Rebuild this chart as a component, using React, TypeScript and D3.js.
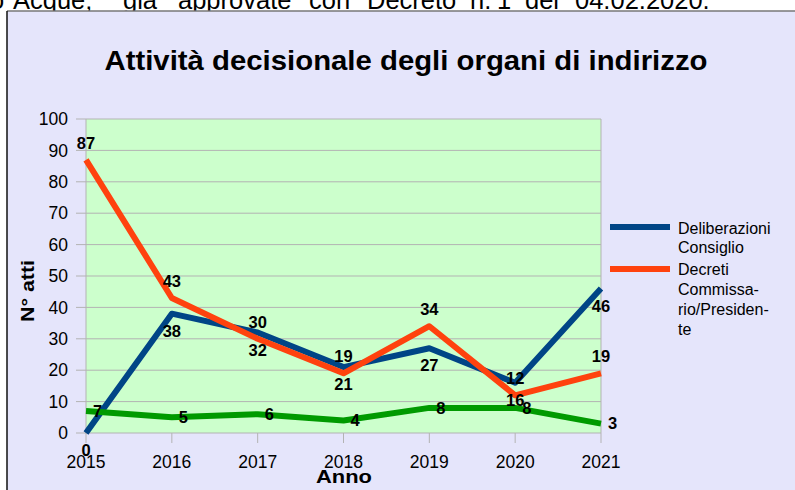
import React from "react";
import * as d3 from "d3";

const years = ["2015", "2016", "2017", "2018", "2019", "2020", "2021"];
const deliberazioni = [0, 38, 32, 21, 27, 16, 46];
const decreti = [87, 43, 30, 19, 34, 12, 19];
const terzaSerie = [7, 5, 6, 4, 8, 8, 3];
const yTicks = [0, 10, 20, 30, 40, 50, 60, 70, 80, 90, 100];
const headerWords = ["o", "Acque;", "già", "approvate", "con", "Decreto", "n.", "1", "del", "04.02.2020."];
const headerWordX = [-10, 13, 123, 178, 309, 367, 470, 497, 525, 575];

const FONT = "'Liberation Sans', Arial, sans-serif";

export default function App() {
  const W = 795, H = 490;
  const x = d3.scalePoint<string>().domain(years).range([86, 601]);
  const y = d3.scaleLinear().domain([0, 100]).range([433, 119]);
  const line = d3
    .line<number>()
    .x((_, i) => x(years[i]) as number)
    .y((d) => y(d));

  const series = [
    { name: "blue", values: deliberazioni, color: "#004586", labelPos: "below" },
    { name: "orange", values: decreti, color: "#ff420e", labelPos: "above" },
    { name: "green", values: terzaSerie, color: "#009a00", labelPos: "right" },
  ];

  return (
    <svg
      width={W}
      height={H}
      style={{ position: "fixed", left: 0, top: 0, background: "#fff" }}
      fontFamily={FONT}
    >
      {headerWords.map((w, i) => (
        <text key={w + i} x={headerWordX[i]} y={9} fontSize={25.5} fill="#000">
          {w}
        </text>
      ))}
      <rect x={7} y={11} width={W} height={H} fill="#e5e5fb" />
      <line x1={7} y1={11} x2={W} y2={11} stroke="#777" strokeWidth={1.5} />
      <line x1={7} y1={11} x2={7} y2={H} stroke="#111" strokeWidth={1.5} />

      <text
        x={406}
        y={70}
        textAnchor="middle"
        fontSize={27}
        fontWeight="bold"
        textLength={603}
        lengthAdjust="spacingAndGlyphs"
      >
        Attività decisionale degli organi di indirizzo
      </text>

      <rect x={86} y={119} width={515} height={314} fill="#ccffcc" />
      {yTicks.map((t) => (
        <g key={t}>
          <line x1={76} x2={601} y1={y(t)} y2={y(t)} stroke="#b3b3b3" strokeWidth={1} />
          <text x={68} y={y(t)} dy="0.35em" textAnchor="end" fontSize={17.5}>
            {t}
          </text>
        </g>
      ))}
      <line x1={86} x2={86} y1={119} y2={433} stroke="#b3b3b3" />
      <line x1={601} x2={601} y1={119} y2={433} stroke="#b3b3b3" />
      {years.map((yr) => (
        <g key={yr}>
          <line x1={x(yr)} x2={x(yr)} y1={433} y2={443} stroke="#b3b3b3" />
          <text x={x(yr)} y={468} textAnchor="middle" fontSize={17.5}>
            {yr}
          </text>
        </g>
      ))}

      {series.map((s) => (
        <path
          key={s.name}
          d={line(s.values) || ""}
          fill="none"
          stroke={s.color}
          strokeWidth={6}
          strokeLinejoin="round"
        />
      ))}

      {series.map((s) =>
        s.values.map((v, i) => {
          const px = x(years[i]) as number;
          const py = y(v);
          if (s.labelPos === "above")
            return (
              <text key={s.name + i} x={px} y={py - 11} textAnchor="middle" fontSize={16.5} fontWeight="bold">
                {v}
              </text>
            );
          if (s.labelPos === "below")
            return (
              <text key={s.name + i} x={px} y={py + 23} textAnchor="middle" fontSize={16.5} fontWeight="bold">
                {v}
              </text>
            );
          return (
            <text key={s.name + i} x={px + 7} y={py} dy="0.35em" fontSize={16.5} fontWeight="bold">
              {v}
            </text>
          );
        })
      )}

      <text
        transform="translate(34,291) rotate(-90)"
        textAnchor="middle"
        fontSize={19}
        fontWeight="bold"
        textLength={62}
        lengthAdjust="spacingAndGlyphs"
      >
        N° atti
      </text>
      <text
        x={344}
        y={483}
        textAnchor="middle"
        fontSize={19}
        fontWeight="bold"
        textLength={56}
        lengthAdjust="spacingAndGlyphs"
      >
        Anno
      </text>

      <line x1={610} x2={670} y1={227} y2={227} stroke="#004586" strokeWidth={6} />
      <text x={678} y={234} fontSize={16}>
        <tspan x={678}>Deliberazioni</tspan>
        <tspan x={678} dy={19}>Consiglio</tspan>
      </text>
      <line x1={610} x2={670} y1={269} y2={269} stroke="#ff420e" strokeWidth={6} />
      <text x={678} y={275} fontSize={16}>
        <tspan x={678}>Decreti</tspan>
        <tspan x={678} dy={20}>Commissa-</tspan>
        <tspan x={678} dy={20}>rio/Presiden-</tspan>
        <tspan x={678} dy={20}>te</tspan>
      </text>
    </svg>
  );
}
